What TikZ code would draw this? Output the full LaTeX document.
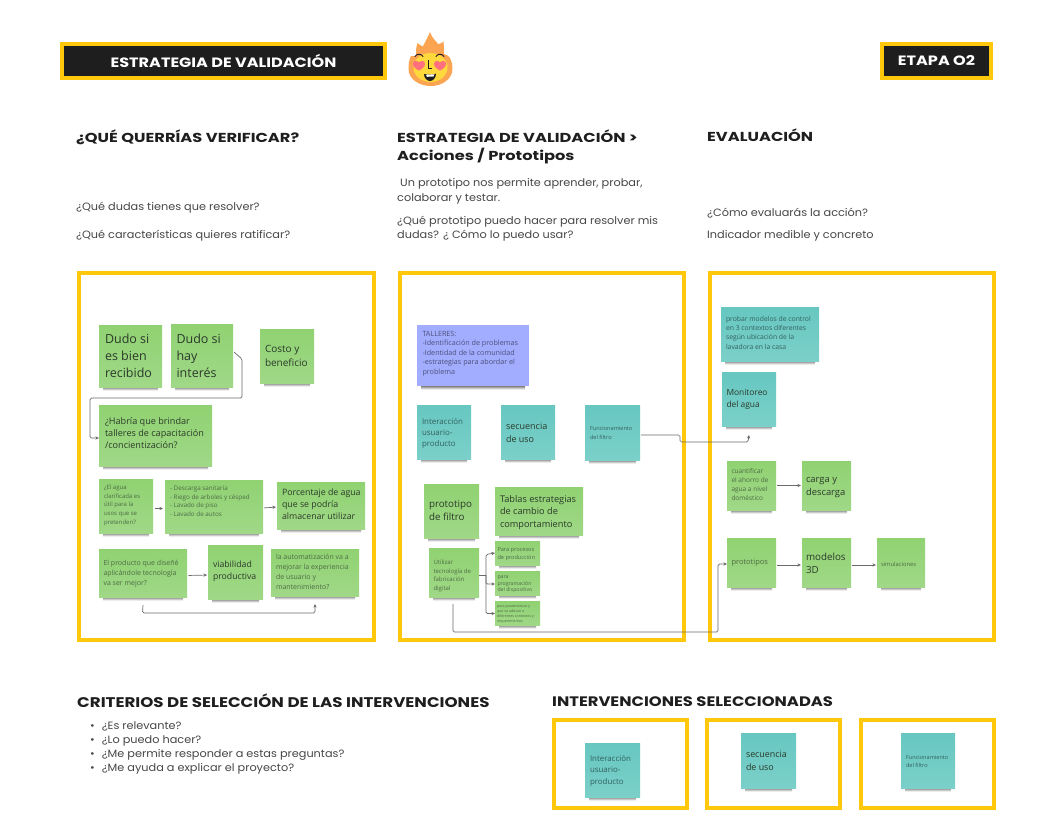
\documentclass[tikz,border=0pt]{standalone}
\usepackage{fontspec}
\setmainfont{Open Sans}
\newfontfamily\headf[FakeStretch=1.25]{Poppins}
\newfontfamily\headg[FakeStretch=1.19]{Poppins}
\newfontfamily\bodyf[FakeStretch=1.065]{Poppins}
\usetikzlibrary{arrows.meta}
\definecolor{ylw}{HTML}{FFC80A}
\definecolor{inkd}{HTML}{1E1E1E}
\definecolor{grnA}{HTML}{90D272}
\definecolor{grnB}{HTML}{A0D887}
\definecolor{tealA}{HTML}{67C7C1}
\definecolor{tealB}{HTML}{7BD0C9}
\definecolor{purp}{HTML}{A3ADFF}
\definecolor{txtbig}{HTML}{2B3A2A}
\definecolor{txtsm}{HTML}{4D6B45}
\definecolor{txttl}{HTML}{33605F}
\definecolor{txtpr}{HTML}{4A5078}
\definecolor{lnk}{HTML}{6A6A6A}
\definecolor{flameO}{HTML}{FBA552}
\definecolor{flameY}{HTML}{FFD83C}
\definecolor{heart}{HTML}{FF6F7D}
\tikzset{
  frm/.style={draw=ylw,line width=4pt,outer sep=0pt,inner sep=0pt,anchor=north west,fill=white},
  stk/.style={anchor=north west,inner sep=0pt,outer sep=0pt},
  grn/.style={top color=grnA,bottom color=grnB,text=txtsm},
  grnb/.style={top color=grnA,bottom color=grnB,text=txtbig},
  tel/.style={top color=tealA,bottom color=tealB,text=txttl},
  telb/.style={top color=tealA,bottom color=tealB,text=txtbig},
  pur/.style={fill=purp,text=txtpr},
  banner/.style={draw=ylw,fill=inkd,line width=4pt,outer sep=0pt,inner sep=0pt,anchor=north west,text=white,font=\headg\bfseries\fontsize{13.5}{16}\selectfont},
  hd/.style={anchor=base west,inner sep=0pt,text=inkd,font=\headf\bfseries\fontsize{13}{16}\selectfont},
  hdb/.style={anchor=base west,inner sep=0pt,text=inkd,font=\headg\bfseries\fontsize{14}{16}\selectfont},
  bd/.style={anchor=base west,inner sep=0pt,text=black!72,font=\bodyf\fontsize{10.6}{14}\selectfont},
  lnkline/.style={draw=lnk,line width=.7pt,rounded corners=1.5pt},
  conn/.style={lnkline,-{Stealth[length=3.6pt,width=3.2pt]}},
}
% name x y w h style size leading padx pady text
\newcommand{\sticky}[9]{%
  \shade[top color=black!70,bottom color=white,opacity=.8] ({#2+4},{#3+#5-.5}) rectangle ({#2+#4-4},{#3+#5+3.5});
  \stickyB{#1}{#2}{#3}{#4}{#5}{#6}{#7}{#8}{#9}}
\newcommand{\stickyB}[9]{\def\sA{#1}\def\sB{#2}\def\sC{#3}\def\sD{#4}\def\sE{#5}\tikzset{curstk/.style={#6}}\def\sG{#7}\def\sH{#8}\def\sI{#9}\stickyC}
\newcommand{\stickyC}[2]{%
  \node[stk,curstk] (\sA) at (\sB,\sC) {\parbox[t][\sE pt][t]{\sD pt}{\leftskip=\sI pt\rightskip=0pt plus 1fil\fontsize{\sG}{\sH}\selectfont\vspace*{#1pt}#2}};}
\begin{document}
\begin{tikzpicture}[x=1pt,y=-1pt]
\useasboundingbox (0,0) rectangle (1055,839);
\fill[white] (0,0) rectangle (1055,839);
% banners
\node[banner,minimum width=323pt,minimum height=34pt] (title) at (62,44) {ESTRATEGIA DE VALIDACIÓN};
\node[banner,minimum width=109pt,minimum height=34pt] (etapa) at (882,44) {ETAPA O2};
% flame
\fill[flameO] (430,32) .. controls (432,38) and (436,41) .. (438,44) .. controls (440,44) and (442,43) .. (443.5,41.5)
  .. controls (444,46) and (444,50) .. (444,54) .. controls (447,55) and (449,56) .. (450,58)
  .. controls (452,62) and (452.5,66) .. (452.5,69) .. controls (452.5,79) and (442,86) .. (431,86)
  .. controls (419,86) and (408.5,79) .. (408.5,69) .. controls (408.5,64) and (409,60) .. (411,56)
  .. controls (412,56) and (414,56) .. (416,56) .. controls (416,51) and (416,47) .. (417.5,43)
  .. controls (419,44) and (421,46) .. (423,46.5) .. controls (425,42) and (428,37) .. (430,32) -- cycle;
\fill[flameY] (430.5,67.5) ellipse (17 and 14.5);
\fill[heart] (419,62.5) .. controls (417,59.5) and (412.5,61) .. (413,64.5) .. controls (413.5,67.5) and (417,69.5) .. (419,70.5)
  .. controls (421,69.5) and (424.5,67.5) .. (425,64.5) .. controls (425.5,61) and (421,59.5) .. (419,62.5) -- cycle;
\fill[heart] (440,62.5) .. controls (438,59.5) and (433.5,61) .. (434,64.5) .. controls (434.5,67.5) and (438,69.5) .. (440,70.5)
  .. controls (442,69.5) and (445.5,67.5) .. (446,64.5) .. controls (446.5,61) and (442,59.5) .. (440,62.5) -- cycle;
\draw[inkd,line width=.9pt,line cap=round] (415,56.5) .. controls (417,53.5) and (421,53.5) .. (423,56.5);
\draw[inkd,line width=.9pt,line cap=round] (436,56.5) .. controls (438,53.5) and (442,53.5) .. (444,56.5);
\draw[inkd,line width=1pt] (428,60) -- (428,68) -- (432,68);
\fill[inkd] (424,74) .. controls (428,75) and (433,75) .. (436,73.5) .. controls (436,78) and (433,81) .. (430,81) .. controls (427,81) and (424,78) .. (424,74) -- cycle;
\fill[white] (426,74.8) -- (434.5,74.3) -- (433.5,76.5) -- (427,76.8) -- cycle;
% headings
\node[hd] (h1) at (76,142) {¿QUÉ QUERRÍAS VERIFICAR?};
\node[hd] (h2a) at (397,142) {ESTRATEGIA DE VALIDACIÓN >};
\node[hd] (h2b) at (397,160) {Acciones / Prototipos};
\node[hd] (h3) at (707,141.5) {EVALUACIÓN};
\node[bd] (b1) at (76,210) {¿Qué dudas tienes que resolver?};
\node[bd] (b2) at (76,238) {¿Qué características quieres ratificar?};
\node[bd] (b3) at (400,186) {Un prototipo nos permite aprender, probar,};
\node[bd] (b4) at (397,201) {colaborar y testar.};
\node[bd] (b5) at (397,224) {¿Qué prototipo puedo hacer para resolver mis};
\node[bd] (b6) at (397,238) {dudas? ¿ Cómo lo puedo usar?};
\node[bd] (b7) at (707,216) {¿Cómo evaluarás la acción?};
\node[bd] (b8) at (707,238) {Indicador medible y concreto};
% frames
\node[frm,minimum width=295pt,minimum height=367pt] (f1) at (78.5,273) {};
\node[frm,minimum width=284pt,minimum height=367pt] (f2) at (399.5,273) {};
\node[frm,minimum width=284pt,minimum height=367pt] (f3) at (709.5,273) {};
\node[frm,minimum width=133pt,minimum height=88pt] (f4) at (554,720) {};
\node[frm,minimum width=133pt,minimum height=88pt] (f5) at (707,720) {};
\node[frm,minimum width=133pt,minimum height=88pt] (f6) at (861,720) {};
% panel 1
\sticky{a1}{99}{325}{63}{62}{grnb}{12.5}{17.3}{6}{8.5}{Dudo si\\es bien\\recibido}
\sticky{a2}{171}{324}{62}{63}{grnb}{12.5}{17.3}{5.5}{9.5}{Dudo si\\hay\\interés}
\sticky{a3}{260}{329}{54}{54}{grnb}{10}{14}{5}{16.5}{Costo y\\beneficio}
\sticky{a4}{99}{405}{113}{61}{grnb}{9.1}{12}{6}{13}{¿Habría que brindar\\talleres de capacitación\\/concientización?}
\sticky{a5}{99}{479}{54}{54}{grn}{6}{8.7}{5}{6}{¿El agua\\clarificada es\\útil para la\\usos que se\\pretenden?}
\sticky{a6}{165}{480}{98}{53}{grn}{6.3}{8.6}{5}{6}{- Descarga sanitaria\\- Riego de arboles y césped\\- Lavado de piso\\- Lavado de autos}
\sticky{a7}{277}{482}{88}{47}{grnb}{8.8}{12}{5}{7}{Porcentaje de agua\\que se podría\\almacenar utilizar}
\sticky{a8}{99}{549}{88}{48}{grn}{7}{10}{4.5}{11}{El producto que diseñé\\aplicándole tecnología\\va ser mejor?}
\sticky{a9}{208}{545}{55}{54}{grnb}{8.7}{12}{5}{16}{viabilidad\\productiva}
\sticky{a10}{271}{549}{88}{47}{grn}{7}{10}{5}{5}{la automatización va a\\mejorar la experiencia\\de usuario y\\mantenimiento?}
% panel 2
\sticky{b11}{417}{325}{112}{61}{pur}{7.2}{9.5}{5.5}{6}{TALLERES:\\-Identificación de problemas\\-Identidad de la comunidad\\-estrategias para abordar el\\problema}
\sticky{b12}{417}{405}{54}{54}{tel}{7.9}{11}{5}{13}{Interacción\\usuario-\\producto}
\sticky{b13}{501}{405}{54}{54}{telb}{9}{12.4}{5}{18}{secuencia\\de uso}
\sticky{b14}{585}{405}{55}{55}{tel}{5.6}{9}{5}{21}{Funcionamiento\\del filtro}
\sticky{b15}{424}{484}{55}{54}{grnb}{9.8}{12.6}{5}{16.5}{prototipo\\de filtro}
\sticky{b16}{495}{487}{88}{48}{grnb}{9.2}{12.3}{5}{8.5}{Tablas estrategias\\de cambio de\\comportamiento}
\sticky{b17}{429}{548}{50}{49}{grn}{6}{8.7}{4.5}{12}{Utilizar\\tecnología de\\fabricación\\digital}
\sticky{b18}{495}{541}{45}{24}{grn}{5.6}{8}{2.5}{6}{Para procesos\\de producción}
\sticky{b19}{495}{571}{45}{24}{grn}{5.2}{6.5}{2.5}{5}{para\\programación\\del dispositivo}
\sticky{b20}{495}{601}{45}{24}{grn}{3.6}{5}{2}{3.5}{para parametrizar y\\que se adecue a\\diferentes contextos y\\requerimientos}
% panel 3
\sticky{c1}{721}{307}{98}{54}{tel}{6.8}{9.4}{5}{9}{probar modelos de control\\en 3 contextos diferentes\\según ubicación de la\\lavadora en la casa}
\sticky{c2}{722}{372}{54}{54}{telb}{8.4}{11.4}{4.5}{17.5}{Monitoreo\\del agua}
\sticky{c3}{727}{461}{49}{49}{grn}{6.5}{9}{4.5}{7.5}{cuantificar\\el ahorro de\\agua a nivel\\doméstico}
\sticky{c4}{802}{461}{49}{49}{grnb}{9.4}{12.6}{4}{16.5}{carga y\\descarga}
\sticky{c5}{727}{538}{49}{49}{grn}{7.5}{10}{4.5}{21}{prototipos}
\sticky{c6}{802}{538}{49}{49}{grnb}{9.8}{12.6}{4}{15}{modelos\\3D}
\sticky{c7}{877}{538}{48}{49}{grn}{5.8}{8}{4}{24}{simulaciones}
% bottom
\node[hdb] (h4) at (77,707) {CRITERIOS DE SELECCIÓN DE LAS INTERVENCIONES};
\node[hdb,font=\headg\bfseries\fontsize{13.75}{16}\selectfont] (h5) at (552,706) {INTERVENCIONES SELECCIONADAS};
\node[bd] (l1) at (90,729.5) {•\hspace{7pt}¿Es relevante?};
\node[bd] (l2) at (90,743.5) {•\hspace{7pt}¿Lo puedo hacer?};
\node[bd] (l3) at (90,757.5) {•\hspace{7pt}¿Me permite responder a estas preguntas?};
\node[bd] (l4) at (90,771.5) {•\hspace{7pt}¿Me ayuda a explicar el proyecto?};
\sticky{d1}{585}{743}{55}{54}{tel}{7.9}{11.5}{5}{12}{Interacción\\usuario-\\producto}
\sticky{d2}{741}{733}{55}{55}{telb}{8.9}{12.7}{5}{18}{secuencia\\de uso}
\sticky{d3}{901}{733}{54}{55}{tel}{5.6}{8}{5}{22}{Funcionamiento\\del filtro}
% connectors
\draw[conn] ([xshift=1pt,yshift=3.5pt]a2.east) -- (242,359) -- (242,398) -- (90,398) -- (90,438) -- (a4.west |- 0,438);
\draw[conn,shorten <=2pt,shorten >=2pt] (a5.east |- 0,508.5) -- (a6.west |- 0,508.5);
\draw[conn,shorten <=1pt,shorten >=1pt] (a6.east |- 0,508) -- (a7.west |- 0,507);
\draw[conn,shorten <=1.5pt,shorten >=1pt] (a8.east |- 0,575.5) -- (a9.west |- 0,575);
\draw[conn] ([yshift=-8pt]a8.south) -- (142.5,613) -- (315,613) -- ([yshift=-8pt]a10.south);
\draw[conn] ([xshift=1pt,yshift=-2.5pt]b14.east) -- (680,435) -- (680,442) -- (748,442) -- ([yshift=-9pt]c2.south);
\draw[lnkline,line width=.9pt] (b17.east |- 0,575) -- (486,575);
\draw[conn] (486,575) -- (486,554.5) -- (b18.west);
\draw[conn] (486,575) -- (486,584) -- (b19.west |- 0,584);
\draw[conn] (486,575) -- (486,613.5) -- (b20.west |- 0,613.5);
\draw[conn] (453,604) -- (453,632) -- (718,632) -- (718,564) -- (c5.west |- 0,564);
\draw[conn,shorten <=1pt,shorten >=1pt] (c3.east) -- (c4.west);
\draw[conn,shorten <=1pt,shorten >=1pt] (c5.east |- 0,565) -- (c6.west |- 0,565);
\draw[conn,shorten <=1pt,shorten >=1pt] (c6.east |- 0,565) -- (c7.west |- 0,565);
\end{tikzpicture}
\end{document}
